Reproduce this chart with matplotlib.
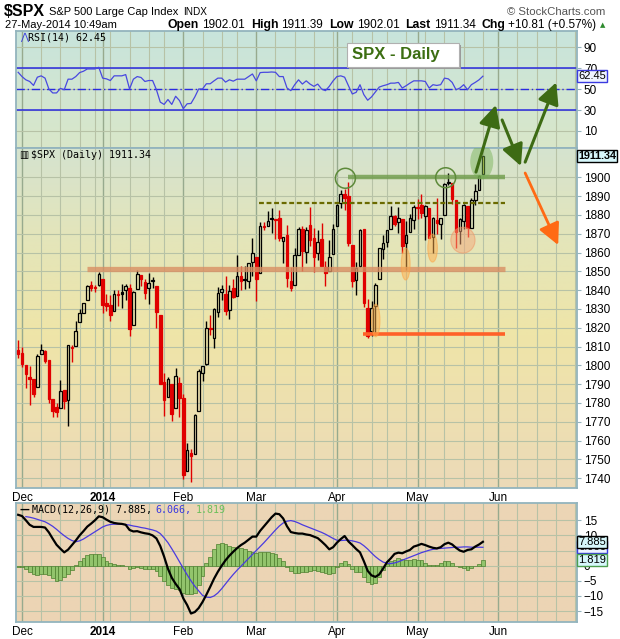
import numpy as np
import matplotlib
matplotlib.use("Agg")
import matplotlib.pyplot as plt
from matplotlib.patches import Rectangle, Ellipse
from matplotlib.colors import to_rgb

plt.rcParams['font.family'] = ['Liberation Sans', 'DejaVu Sans']

# ---------------- data (trading-day index: Nov 29 2013 = -1, Dec 2 2013 = 0) ----------------
first_day = -1
opens = [1808.4, 1806.5, 1800.1, 1793.6, 1792.8, 1788.4, 1806.2, 1807.5, 1802.8, 1782.0,
         1778.0, 1777.5, 1786.8, 1781.5, 1809.0, 1810.4, 1822.9, 1828.0, 1835.0, 1843.0,
         1841.5, 1842.6, 1845.9, 1833.2, 1832.3, 1828.7, 1837.9, 1839.0, 1840.1, 1841.3,
         1821.4, 1840.5, 1848.0, 1844.2, 1841.1, 1844.7, 1842.3, 1827.0, 1791.0, 1783.0,
         1790.2, 1777.2, 1790.9, 1782.7, 1743.8, 1753.4, 1753.0, 1776.0, 1796.2, 1800.5,
         1820.1, 1814.8, 1828.5, 1839.0, 1838.2, 1829.2, 1841.1, 1836.8, 1847.7, 1845.8,
         1844.9, 1855.1, 1857.7, 1849.2, 1874.1, 1874.2, 1878.5, 1877.9, 1878.3, 1866.2,
         1869.1, 1845.1, 1842.8, 1858.9, 1872.3, 1860.1, 1874.5, 1867.7, 1859.5, 1867.1,
         1852.1, 1850.1, 1859.2, 1874.0, 1886.6, 1891.4, 1890.3, 1863.9, 1845.5, 1852.6,
         1872.3, 1830.7, 1818.2, 1831.4, 1846.0, 1861.7, 1865.8, 1872.6, 1879.3, 1876.0,
         1877.7, 1865.0, 1870.8, 1877.1, 1884.4, 1885.3, 1879.5, 1883.7, 1868.5, 1877.4,
         1875.3, 1880.0, 1896.8, 1897.1, 1888.2, 1871.2, 1876.7, 1884.9, 1873.3, 1888.2,
         1893.3, 1902.0]
highs = [1813.6, 1810.0, 1800.1, 1799.8, 1792.8, 1806.0, 1811.5, 1808.0, 1803.0, 1782.0,
         1780.0, 1792.2, 1786.8, 1811.1, 1810.9, 1823.8, 1829.8, 1833.3, 1842.8, 1844.9,
         1842.5, 1849.4, 1845.9, 1838.2, 1837.2, 1840.1, 1840.0, 1843.2, 1843.2, 1843.5,
         1839.3, 1850.8, 1848.0, 1846.0, 1849.3, 1846.9, 1842.3, 1827.0, 1796.0, 1793.9,
         1790.2, 1798.8, 1793.9, 1784.8, 1758.7, 1755.8, 1774.1, 1798.0, 1799.9, 1823.5,
         1826.6, 1830.3, 1841.7, 1842.9, 1847.5, 1842.8, 1846.1, 1858.7, 1852.9, 1852.7,
         1854.5, 1867.9, 1857.7, 1876.2, 1876.5, 1881.9, 1883.6, 1877.9, 1882.4, 1868.4,
         1874.4, 1852.4, 1862.3, 1873.8, 1874.1, 1873.5, 1884.0, 1873.3, 1871.9, 1875.9,
         1855.6, 1866.6, 1875.2, 1885.8, 1893.2, 1893.8, 1897.3, 1864.0, 1855.0, 1872.4,
         1872.5, 1835.1, 1834.2, 1844.0, 1862.3, 1869.6, 1871.9, 1884.9, 1879.8, 1884.1,
         1877.7, 1877.0, 1880.6, 1885.2, 1888.6, 1891.3, 1885.5, 1883.7, 1878.8, 1889.1,
         1878.6, 1897.1, 1902.2, 1897.1, 1888.2, 1878.3, 1886.0, 1884.9, 1888.8, 1896.3,
         1901.3, 1911.4]
lows = [1803.9, 1798.9, 1787.9, 1779.1, 1783.4, 1788.4, 1806.2, 1801.4, 1780.1, 1772.3,
        1772.4, 1777.5, 1777.0, 1768.0, 1801.7, 1810.4, 1822.9, 1828.0, 1835.0, 1839.8,
        1838.8, 1842.4, 1827.7, 1829.1, 1823.7, 1828.7, 1831.4, 1830.4, 1834.6, 1815.5,
        1821.4, 1840.5, 1842.4, 1835.2, 1832.4, 1840.9, 1820.1, 1790.3, 1772.9, 1783.0,
        1770.5, 1777.2, 1772.3, 1739.7, 1743.8, 1737.9, 1753.0, 1776.0, 1791.8, 1800.4,
        1816.0, 1809.2, 1825.6, 1835.0, 1827.0, 1824.9, 1835.6, 1836.8, 1840.2, 1840.7,
        1841.1, 1847.7, 1834.4, 1849.2, 1872.2, 1874.2, 1870.6, 1867.0, 1866.1, 1854.4,
        1841.9, 1839.6, 1842.8, 1858.9, 1850.4, 1854.6, 1863.5, 1849.7, 1856.0, 1852.6,
        1842.1, 1850.1, 1859.2, 1874.0, 1883.8, 1882.7, 1863.3, 1841.5, 1837.5, 1852.4,
        1830.9, 1814.4, 1815.8, 1816.3, 1846.0, 1856.7, 1863.2, 1872.6, 1873.9, 1870.2,
        1859.7, 1850.6, 1870.8, 1872.7, 1878.0, 1878.5, 1866.8, 1867.7, 1859.8, 1870.1,
        1867.0, 1880.0, 1896.1, 1885.8, 1862.4, 1864.8, 1872.4, 1868.1, 1873.3, 1885.4,
        1893.3, 1902.0]
closes = [1805.8, 1800.9, 1795.2, 1792.8, 1785.0, 1805.1, 1808.4, 1802.6, 1782.2, 1775.5,
          1775.3, 1786.5, 1781.0, 1810.7, 1809.6, 1818.3, 1828.0, 1833.3, 1842.0, 1841.4,
          1841.1, 1848.4, 1832.0, 1831.4, 1826.8, 1837.9, 1837.5, 1838.1, 1842.4, 1819.2,
          1838.9, 1848.4, 1845.9, 1838.7, 1843.8, 1844.9, 1828.5, 1790.3, 1781.6, 1792.5,
          1774.2, 1794.2, 1782.6, 1741.9, 1755.2, 1751.6, 1773.4, 1797.0, 1799.8, 1819.8,
          1819.3, 1829.8, 1838.6, 1840.8, 1828.8, 1839.8, 1836.3, 1847.6, 1845.1, 1845.2,
          1854.3, 1859.5, 1845.7, 1873.9, 1873.8, 1877.0, 1878.0, 1877.2, 1867.6, 1868.2,
          1846.3, 1841.1, 1858.8, 1872.3, 1860.8, 1872.0, 1866.5, 1857.4, 1865.6, 1852.6,
          1849.0, 1857.6, 1872.3, 1885.5, 1890.9, 1888.8, 1865.1, 1845.0, 1852.0, 1872.2,
          1833.1, 1815.7, 1830.6, 1843.0, 1862.3, 1864.9, 1871.9, 1879.6, 1875.4, 1878.6,
          1863.4, 1869.4, 1878.3, 1884.0, 1883.7, 1881.1, 1884.7, 1867.7, 1878.2, 1875.6,
          1878.5, 1896.7, 1897.5, 1888.5, 1870.9, 1877.9, 1885.1, 1872.8, 1888.0, 1892.5,
          1900.5, 1911.3]
prior_close = 1807.2

rsi = [66.2, 62.1, 59.0, 57.4, 53.6, 61.5, 62.8, 60.6, 50.2, 46.4,
       46.4, 50.8, 49.5, 59.6, 59.6, 62.1, 65.9, 67.2, 69.4, 69.4,
       69.4, 71.0, 60.6, 59.9, 58.3, 62.8, 62.8, 62.8, 64.0, 50.2,
       59.6, 62.1, 61.2, 57.4, 58.3, 58.3, 49.5, 37.6, 35.4, 40.1,
       35.4, 43.2, 39.1, 31.3, 36.0, 36.3, 42.6, 50.2, 50.2, 55.2,
       55.2, 58.0, 60.6, 60.6, 56.8, 59.0, 57.7, 59.6, 59.6, 59.6,
       62.1, 64.6, 58.0, 65.9, 66.2, 66.2, 66.5, 66.2, 62.1, 62.1,
       51.1, 48.6, 54.3, 59.0, 54.9, 58.0, 54.9, 52.7, 54.9, 50.2,
       48.6, 52.7, 58.0, 62.1, 62.8, 61.5, 53.3, 45.4, 47.0, 54.3,
       44.8, 39.4, 42.6, 47.3, 52.0, 53.3, 54.3, 55.8, 55.8, 56.5,
       51.1, 53.3, 55.8, 58.0, 58.0, 58.0, 57.4, 51.1, 54.3, 53.6,
       54.3, 60.6, 59.9, 56.5, 49.5, 51.1, 54.3, 49.5, 54.3, 56.5,
       59.0, 62.45]

macd = [16.8, 16.4, 15.0, 13.5, 12.8, 12.8, 12.8, 12.6, 11.0, 8.9,
        6.9, 5.6, 4.4, 5.3, 6.8, 8.3, 10.0, 11.4, 12.9, 13.9,
        15.0, 16.3, 16.0, 15.2, 14.5, 14.1, 13.9, 13.8, 13.5, 11.8,
        11.3, 11.4, 11.0, 10.7, 10.5, 10.0, 9.0, 6.5, 3.0, -1.0,
        -4.0, -6.0, -7.7, -10.8, -13.0, -15.8, -15.3, -14.0, -12.0, -9.6,
        -7.0, -4.3, -2.0, 0.0, 1.8, 3.3, 4.6, 5.8, 6.8, 7.6,
        8.6, 9.6, 9.6, 11.5, 13.0, 14.5, 16.0, 17.2, 17.0, 15.6,
        13.0, 11.1, 10.8, 10.6, 10.6, 10.3, 10.1, 9.6, 9.1, 8.0,
        6.8, 5.4, 6.1, 7.6, 8.8, 9.8, 8.0, 6.8, 5.5, 4.4,
        1.5, -1.7, -3.2, -3.7, -2.9, -1.0, 1.1, 2.4, 3.9, 4.3,
        4.1, 4.7, 5.2, 6.3, 6.7, 7.2, 6.8, 6.3, 5.9, 5.7,
        6.1, 7.1, 7.6, 7.0, 5.9, 5.0, 4.6, 5.2, 5.4, 6.3,
        7.0, 7.885]
signal_first_day = 1
signal = [16.2, 16.0, 15.7, 15.3, 14.9, 14.5, 13.8, 13.0, 12.0, 10.9,
          9.9, 9.0, 8.3, 7.9, 8.2, 8.8, 9.6, 10.4, 11.2, 12.0,
          12.8, 13.3, 13.6, 13.7, 13.7, 13.7, 13.6, 13.4, 13.1, 12.9,
          12.6, 12.4, 12.1, 11.8, 11.4, 10.6, 9.2, 7.6, 5.6, 3.5,
          1.3, -0.9, -3.0, -5.0, -6.8, -8.3, -9.8, -10.4, -10.5, -10.0,
          -9.0, -7.6, -6.0, -4.4, -2.9, -1.5, -0.2, 1.1, 2.4, 3.7,
          5.0, 6.3, 7.6, 9.0, 10.4, 11.8, 13.1, 14.1, 14.7, 14.9,
          14.6, 14.1, 13.5, 13.0, 12.5, 12.0, 11.5, 11.0, 10.4, 9.7,
          9.0, 8.4, 8.3, 8.4, 8.4, 8.2, 7.9, 7.5, 6.6, 5.5,
          4.2, 3.0, 2.0, 1.2, 0.8, 0.7, 0.9, 1.3, 1.8, 2.3,
          2.8, 3.3, 3.8, 4.3, 4.7, 5.1, 5.4, 5.6, 5.7, 5.8,
          5.9, 6.0, 6.1, 6.1, 6.2, 6.2, 6.1, 6.1, 6.1, 6.066]
hist = [-0.3, -0.6, -1.2, -2.0, -2.8, -3.1, -2.8, -2.6, -3.0, -4.2,
        -5.0, -4.8, -3.8, -2.7, -1.3, 0.2, 1.5, 2.6, 3.4, 3.9,
        4.0, 3.9, 3.0, 1.7, 0.8, 0.5, 0.3, 0.2, 0.0, -1.0,
        -0.9, -0.6, -0.7, -1.0, -1.0, -1.2, -1.6, -3.5, -5.2, -6.3,
        -7.3, -7.7, -8.0, -9.0, -9.3, -9.3, -9.0, -6.3, -3.5, 0.8,
        3.0, 5.6, 7.0, 7.6, 7.2, 6.5, 6.3, 6.0, 5.7, 5.5,
        5.0, 4.6, 4.3, 4.5, 4.5, 4.4, 4.1, 3.8, 2.5, 1.4,
        -0.6, -1.9, -2.3, -2.5, -2.2, -2.0, -1.7, -1.5, -1.9, -2.1,
        -2.4, -2.6, -2.3, -0.4, 0.8, 1.4, 0.4, -1.1, -2.0, -2.1,
        -3.8, -5.5, -6.2, -5.8, -3.6, -1.4, 0.4, 1.4, 2.0, 2.4,
        2.1, 2.0, 1.8, 2.1, 2.0, 1.8, 1.0, 0.3, 0.1, 0.2,
        0.8, 1.4, 1.6, 1.0, 0.0, -0.6, -0.9, -1.3, -0.8, -0.2,
        0.6, 1.819]

month_labels = ['Dec', '2014', 'Feb', 'Mar', 'Apr', 'May', 'Jun']
month_days = [0, 21, 42, 61, 82, 103, 124]
week_days = [5, 10, 15, 19, 23, 28, 33, 37, 47, 52, 56, 66, 71, 76, 81, 86, 91, 95,
             100, 105, 110, 115, 120, 129, 134, 139, 144]
price_ticks = list(range(1740, 1901, 10))
rsi_ticks = [10, 30, 50, 70, 90]
macd_ticks = [-15, -10, -5, 0, 5, 10, 15]

# annotations drawn on the price panel (day index, price)
green_level = (1900.0, 84.9, 125.8)
dashed_level = (1886.2, 61.7, 125.8)
salmon_level = (1851.0, 16.9, 125.8)
orange_level = (1816.7, 88.8, 125.8)
green_circles = [(84.2, 1899.5), (110.3, 1899.8)]
green_blob = (119.7, 1908.3, 6.0, 18.8)
orange_blobs = [(99.9, 1853.9, 2.3, 17.0), (106.9, 1862.4, 2.5, 14.9), (92.1, 1823.9, 2.2, 17.4)]
salmon_blob = (114.8, 1866.6, 6.3, 13.8)
green_arrows = [((118.2, 1902.8), (123.4, 1938.5)),
                ((125.0, 1930.5), (129.9, 1906.0)),
                ((131.0, 1908.1), (139.1, 1950.5))]
orange_arrow = ((131.0, 1902.3), (139.6, 1864.0))

# ---------------- layout ----------------
W, H = 620, 639
fig = plt.figure(figsize=(6.2, 6.39), dpi=100)
fig.patch.set_facecolor('white')

def rect(x0, y0, x1, y1):
    return [x0 / W, 1 - y1 / H, (x1 - x0) / W, (y1 - y0) / H]

XL = (-1.56, 144.5)
ax_r = fig.add_axes(rect(16, 31, 577, 148))
ax_p = fig.add_axes(rect(16, 148, 577, 488))
ax_m = fig.add_axes(rect(16, 503, 577, 622))
RL = (-6.4, 105.8)
PL = (1734.8, 1915.6)
ML = (-18.6, 20.7)

SPINE = '#93b4bd'
GRID = '#b7c2a6'
GRID_M = '#97aa8e'

def gradient(ax, stops, ylim):
    t = np.linspace(0, 1, 256)
    pos = [p for p, _ in stops]
    cols = np.array([to_rgb(c) for _, c in stops])
    img = np.stack([np.interp(t, pos, cols[:, k]) for k in range(3)], axis=-1)[:, None, :]
    ax.imshow(img, extent=[XL[0], XL[1], ylim[0], ylim[1]], aspect='auto',
              origin='upper', zorder=0, interpolation='bilinear')

def style(ax, ylim, yticks):
    ax.set_xlim(*XL)
    ax.set_ylim(*ylim)
    for s in ax.spines.values():
        s.set_color(SPINE)
        s.set_linewidth(1.3)
    ax.yaxis.tick_right()
    ax.set_yticks(yticks)
    ax.tick_params(axis='y', direction='out', length=3, width=0.8, color=SPINE,
                   labelsize=8.5, pad=2, labelcolor='black')
    for d in week_days:
        ax.axvline(d, color=GRID, lw=0.8, zorder=1)
    for d in month_days:
        ax.axvline(d, color=GRID_M, lw=1.0, zorder=1)
    for v in yticks:
        ax.axhline(v, color=GRID, lw=0.8, zorder=1)

# ---- RSI panel ----
gradient(ax_r, [(0, '#c8e4dc'), (1, '#d9e7c9')], RL)
style(ax_r, RL, rsi_ticks)
ax_r.set_xticks([])
ax_r.axhline(70, color='#2a2ae0', lw=1.1, zorder=2)
ax_r.axhline(30, color='#2a2ae0', lw=1.1, zorder=2)
ax_r.axhline(50, color='#2a2ae0', lw=1.0, ls=(0, (6, 2, 1, 2)), zorder=2)
days_all = np.arange(first_day, first_day + len(closes))
ax_r.plot(days_all, rsi, color='#4848e0', lw=0.9, zorder=3)

# ---- price panel ----
gradient(ax_p, [(0, '#d5e3cf'), (0.25, '#e3e5bb'), (0.55, '#efe5a8'), (1, '#ecdab8')], PL)
style(ax_p, PL, price_ticks)
RED = '#e00000'
for i, d in enumerate(days_all):
    o, h, l, c = opens[i], highs[i], lows[i], closes[i]
    pc = closes[i - 1] if i > 0 else prior_close
    col = RED if c < pc else 'black'
    top, bot = max(o, c), min(o, c)
    ax_p.vlines(d, top, h, color=col, lw=1.0, zorder=3)
    ax_p.vlines(d, l, bot, color=col, lw=1.0, zorder=3)
    hgt = max(top - bot, 0.5)
    if i == len(closes) - 1:
        fc = '#f4f25a'
    elif c < o:
        fc = col
    else:
        fc = 'none'
    ax_p.add_patch(Rectangle((d - 0.34, bot), 0.68, hgt, facecolor=fc, edgecolor=col,
                             lw=0.9, zorder=3))

lv, x0, x1 = salmon_level
ax_p.plot([x0, x1], [lv, lv], color='#d98f63', lw=3.8, alpha=0.8, zorder=4, solid_capstyle='butt')
lv, x0, x1 = green_level
ax_p.plot([x0, x1], [lv, lv], color='#6f9c4a', lw=3.2, alpha=0.8, zorder=4, solid_capstyle='butt')
lv, x0, x1 = orange_level
ax_p.plot([x0, x1], [lv, lv], color='#ff6128', lw=2.6, zorder=4, solid_capstyle='butt')
lv, x0, x1 = dashed_level
ax_p.plot([x0, x1], [lv, lv], color='#6a6a00', lw=1.6, ls=(0, (2.2, 1.2)), zorder=4)
for cx, cy in green_circles:
    ax_p.add_patch(Ellipse((cx, cy), 5.2, 10.6, facecolor='none', edgecolor='#5d8a3a',
                           lw=1.1, zorder=5))
cx, cy, ew, eh = green_blob
ax_p.add_patch(Ellipse((cx, cy), ew, eh, facecolor='#74b052', alpha=0.45, edgecolor='none', zorder=5))
for cx, cy, ew, eh in orange_blobs:
    ax_p.add_patch(Ellipse((cx, cy), ew, eh, facecolor='#ffad4a', alpha=0.5,
                           edgecolor='#ffa040', lw=0.8, zorder=5))
cx, cy, ew, eh = salmon_blob
ax_p.add_patch(Ellipse((cx, cy), ew, eh, facecolor='#f4a87a', alpha=0.5,
                       edgecolor='#f09060', lw=0.8, zorder=5))

ax_p.set_xticks(month_days)
ax_p.set_xticklabels(month_labels)
ax_p.tick_params(axis='x', length=0, labelsize=8.5, pad=3)
ax_p.get_xticklabels()[1].set_fontweight('bold')

# ---- MACD panel ----
gradient(ax_m, [(0, '#ecd6b6'), (1, '#ecd4b4')], ML)
style(ax_m, ML, macd_ticks)
ax_m.bar(days_all, hist, width=1.0, color='#92c46c', edgecolor='#4d7f2e', lw=0.5, zorder=2)
sig_days = np.arange(signal_first_day, signal_first_day + len(signal))
ax_m.plot(sig_days, signal, color='#4a3ae0', lw=0.9, zorder=3)
ax_m.plot(days_all, macd, color='black', lw=1.6, zorder=4)
ax_m.set_xticks(month_days)
ax_m.set_xticklabels(month_labels)
ax_m.tick_params(axis='x', length=0, labelsize=8.5, pad=3)
ax_m.get_xticklabels()[1].set_fontweight('bold')

# ---- value tags ----
def tag(ax, val, text, ec, fc, bold=False, tc='black', z=6, fs=8.0):
    ax.annotate(text, xy=(1, val), xycoords=ax.get_yaxis_transform(), xytext=(1, 0),
                textcoords='offset pixels', ha='left', va='center', fontsize=fs,
                fontweight='bold' if bold else 'normal', color=tc, zorder=z,
                annotation_clip=False,
                bbox=dict(boxstyle='square,pad=0.1', fc=fc, ec=ec, lw=1.0))

tag(ax_r, rsi[-1], '62.45', '#3a3ae0', '#eef4ff')
tag(ax_p, closes[-1], '1911.34', 'black', '#d6f7fb', bold=True, fs=7.8)
tag(ax_m, signal[-1], '6.066', '#3a3ae0', '#eef4ff')
tag(ax_m, macd[-1], '7.885', 'black', '#d6f7fb')
tag(ax_m, hist[-1], '1.819', '#4d9f4e', '#d6f7fb')

# ---------------- overlay (pixel coordinates) ----------------
ov = fig.add_axes([0, 0, 1, 1], zorder=10)
ov.set_xlim(0, W)
ov.set_ylim(H, 0)
ov.axis('off')
renderer = fig.canvas.get_renderer()

def seq_text(x, y, pieces, align='left'):
    arts, gaps = [], []
    for s, gap, kw in pieces:
        arts.append(ov.text(0, y, s, ha='left', va='center', **kw))
        gaps.append(gap)
    widths = [a.get_window_extent(renderer).width for a in arts]
    total = sum(widths) + sum(gaps)
    if align == 'right':
        x = x - total
    for a, w, g in zip(arts, widths, gaps):
        a.set_x(x)
        x += w + g

seq_text(4, 12, [('$SPX', 4, dict(fontsize=11.5, fontweight='bold')),
                 ('S&P 500 Large Cap Index', 5, dict(fontsize=8.0)),
                 ('INDX', 0, dict(fontsize=7.2))])
ov.text(605, 12, '© StockCharts.com', ha='right', va='center', fontsize=8.2, color='#555555')
ov.text(5, 25, '27-May-2014 10:49am', ha='left', va='center', fontsize=8)
B = dict(fontsize=8.8, fontweight='bold')
R = dict(fontsize=8.5)
seq_text(605, 25, [('Open', 3, B), ('1902.01', 6, R), ('High', 3, B), ('1911.39', 6, R),
                   ('Low', 3, B), ('1902.01', 6, R), ('Last', 3, B), ('1911.34', 6, R),
                   ('Chg', 3, B), ('+10.81 (+0.57%)', 3, R),
                   ('▲', 0, dict(fontsize=5, color='#2e8b2e', family='DejaVu Sans'))],
         align='right')

MONO = dict(family='DejaVu Sans Mono', fontsize=7.2)
ov.text(20, 37, '⋀', ha='left', va='center', color='#3a3ae0', fontsize=7, family='DejaVu Sans')
ov.text(28, 37, 'RSI(14) 62.45', ha='left', va='center', **MONO)
ov.text(19, 155, '▥', ha='left', va='center', fontsize=7, family='DejaVu Sans')
ov.text(31, 155, '$SPX (Daily) 1911.34', ha='left', va='center', **MONO)
seq_text(20, 510, [('—', 2, dict(family='DejaVu Sans', fontsize=7.2, fontweight='bold')),
                   ('MACD(12,26,9) 7.885,', 4, MONO),
                   ('6.066,', 4, dict(MONO, color='#3a3ae0')),
                   ('1.819', 0, dict(MONO, color='#6cbf5a'))])

# title box
ov.add_patch(Rectangle((349, 45), 112, 24, facecolor='#9a9a9a', edgecolor='none', zorder=1))
ov.add_patch(Rectangle((347, 43), 112, 24, facecolor='white', edgecolor='#b0b0b0', lw=0.8, zorder=2))
ov.text(352, 55, 'SPX - Daily', ha='left', va='center', fontsize=12, fontweight='bold',
        color='#3c6e12', zorder=3)

# arrows
AST = '-|>,head_length=1.0,head_width=0.5'
for (s, e) in green_arrows:
    ov.annotate('', xy=e, xytext=s, xycoords=ax_p.transData, textcoords=ax_p.transData,
                annotation_clip=False,
                arrowprops=dict(arrowstyle=AST, color='#3d6b14',
                                lw=2.2, mutation_scale=13, shrinkA=0, shrinkB=0))
s, e = orange_arrow
ov.annotate('', xy=e, xytext=s, xycoords=ax_p.transData, textcoords=ax_p.transData,
            annotation_clip=False,
            arrowprops=dict(arrowstyle=AST, color='#ff6a14',
                            lw=2.0, mutation_scale=13, shrinkA=0, shrinkB=0))

fig.savefig('out.png', dpi=100)
